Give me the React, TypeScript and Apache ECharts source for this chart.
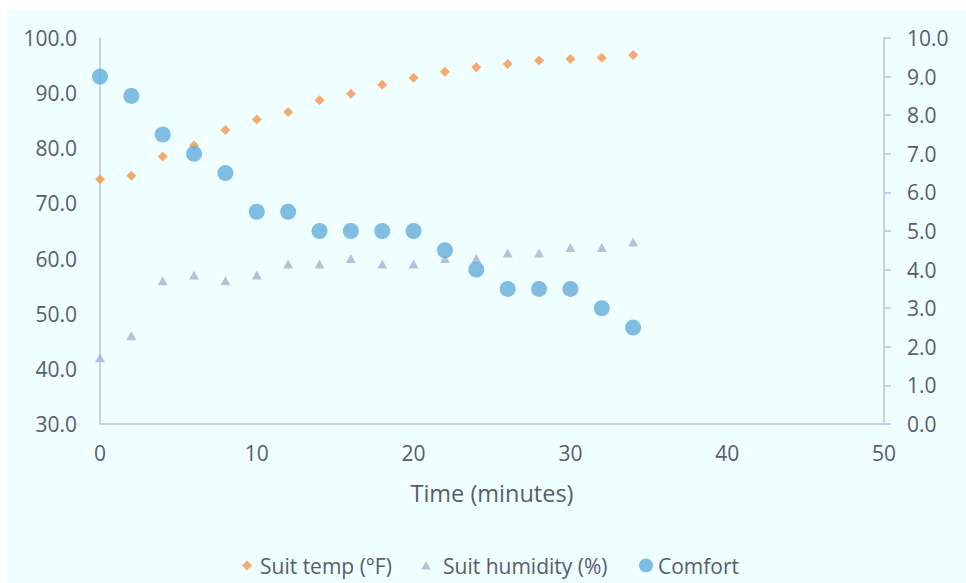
import React, { useEffect, useRef } from "react";
import * as echarts from "echarts";

const times = [0, 2, 4, 6, 8, 10, 12, 14, 16, 18, 20, 22, 24, 26, 28, 30, 32, 34];
const suitTemp = [74.4, 75.0, 78.5, 80.5, 83.3, 85.2, 86.6, 88.7, 89.9, 91.5, 92.8, 93.9, 94.7, 95.3, 95.9, 96.2, 96.4, 96.9];
const suitHumidity = [42, 46, 56, 57, 56, 57, 59, 59, 60, 59, 59, 60, 60, 61, 61, 62, 62, 63];
const comfort = [9.0, 8.5, 7.5, 7.0, 6.5, 5.5, 5.5, 5.0, 5.0, 5.0, 5.0, 4.5, 4.0, 3.5, 3.5, 3.5, 3.0, 2.5];

const seriesNames = ["Suit temp (°F)", "Suit humidity (%)", "Comfort"];

const FONT = "'Open Sans', sans-serif";
const TEXT = "#565d6c";
const AXIS = "#b4c7e7";
const FS = 21;

const pair = (ys: number[]) => times.map((t, i) => [t, ys[i]]);

const legendBase = {
  top: 541,
  textStyle: { fontFamily: FONT, fontSize: FS, color: TEXT },
  itemGap: 0,
};

export default function App() {
  const ref = useRef<HTMLDivElement>(null);
  useEffect(() => {
    if (!ref.current) return;
    const chart = echarts.init(ref.current, undefined, { renderer: "svg" });
    chart.setOption({
      animation: false,
      backgroundColor: "#f0ffff",
      textStyle: { fontFamily: FONT, color: TEXT },
      grid: { left: 94, right: 82, top: 29, bottom: 159, containLabel: false },
      legend: [
        {
          ...legendBase,
          left: 228,
          itemWidth: 16,
          itemHeight: 16,
          data: [{ name: seriesNames[0], icon: "path://M0,0 M16,16 M8,3 L13,8 L8,13 L3,8 Z" }],
        },
        {
          ...legendBase,
          left: 403,
          itemWidth: 24,
          itemHeight: 16,
          data: [{ name: seriesNames[1], icon: "path://M0,0 M24,16 M12,3.5 L16.8,12 L7.2,12 Z" }],
        },
        {
          ...legendBase,
          left: 628,
          itemWidth: 14,
          itemHeight: 14,
          data: [{ name: seriesNames[2], icon: "circle" }],
        },
      ],
      xAxis: {
        type: "value",
        min: 0,
        max: 50,
        interval: 10,
        name: "Time (minutes)",
        nameLocation: "middle",
        nameGap: 57,
        nameTextStyle: { fontFamily: FONT, fontSize: 23.5, color: TEXT },
        axisLine: { show: true, lineStyle: { color: AXIS, width: 1.5 } },
        axisTick: { show: false },
        splitLine: { show: false },
        axisLabel: { margin: 18, fontSize: FS, color: TEXT, fontFamily: FONT },
      },
      yAxis: [
        {
          type: "value",
          min: 30,
          max: 100,
          interval: 10,
          position: "left",
          axisLine: { show: true, lineStyle: { color: AXIS, width: 1.5 } },
          axisTick: { show: false },
          splitLine: { show: false },
          axisLabel: {
            margin: 23,
            fontSize: FS,
            color: TEXT,
            fontFamily: FONT,
            formatter: (v: number) => v.toFixed(1),
          },
        },
        {
          type: "value",
          min: 0,
          max: 10,
          interval: 1,
          position: "right",
          axisLine: { show: true, lineStyle: { color: AXIS, width: 1.5 } },
          axisTick: { show: true, length: 7, lineStyle: { color: AXIS, width: 1.5 } },
          splitLine: { show: false },
          axisLabel: {
            margin: 23,
            fontSize: FS,
            color: TEXT,
            fontFamily: FONT,
            formatter: (v: number) => v.toFixed(1),
          },
        },
      ],
      series: [
        {
          name: seriesNames[0],
          type: "scatter",
          yAxisIndex: 0,
          symbol: "diamond",
          symbolSize: 10,
          itemStyle: { color: "#f7934c" },
          data: pair(suitTemp),
          z: 2,
        },
        {
          name: seriesNames[1],
          type: "scatter",
          yAxisIndex: 0,
          symbol: "triangle",
          symbolSize: [10, 9],
          itemStyle: { color: "#a6b4cf" },
          data: pair(suitHumidity),
          z: 3,
        },
        {
          name: seriesNames[2],
          type: "scatter",
          yAxisIndex: 1,
          symbol: "circle",
          symbolSize: 16,
          itemStyle: { color: "#63acdc" },
          data: pair(comfort),
          z: 4,
        },
      ],
    });
    return () => chart.dispose();
  }, []);
  return (
    <div
      ref={ref}
      style={{ position: "absolute", left: 6, top: 9, width: 960, height: 574 }}
    />
  );
}
